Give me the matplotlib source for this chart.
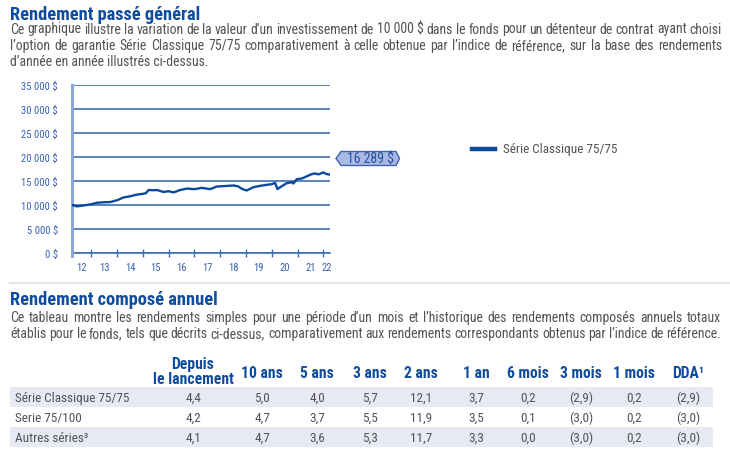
import matplotlib
matplotlib.use("Agg")
import matplotlib.pyplot as plt
from matplotlib.patches import Polygon, Rectangle
from matplotlib.lines import Line2D
import matplotlib.ticker as mticker

# ---------------- data ----------------
dates = [2012.25, 2012.44, 2012.70, 2013.00, 2013.22, 2013.48, 2013.74, 2014.01,
         2014.25, 2014.51, 2014.77, 2015.00, 2015.12, 2015.22, 2015.40, 2015.55,
         2015.80, 2016.00, 2016.19, 2016.45, 2016.71, 2017.00, 2017.29, 2017.61,
         2017.87, 2018.13, 2018.52, 2018.71, 2018.84, 2019.03, 2019.29, 2019.55,
         2019.81, 2020.00, 2020.13, 2020.22, 2020.33, 2020.58, 2020.78, 2020.84,
         2020.97, 2021.17, 2021.36, 2021.55, 2021.68, 2021.81, 2021.94, 2022.00,
         2022.11, 2022.26]
values = [10000, 9700, 9880, 10150, 10450, 10550, 10600, 11000,
          11550, 11800, 12150, 12300, 12450, 13100, 13050, 13100,
          12700, 12850, 12600, 13100, 13400, 13280, 13550, 13280,
          13830, 13900, 14040, 13830, 13350, 13000, 13690, 13970,
          14180, 14310, 14590, 13300, 13690, 14520, 14730, 14450,
          15350, 15500, 15950, 16400, 16550, 16350, 16600, 16750,
          16450, 16289]
final_value_label = "16 289 $"
series_name = "Série Classique 75/75"
year_ticks = [2013, 2014, 2015, 2016, 2017, 2018, 2019, 2020, 2021, 2022]
year_labels = ["12", "13", "14", "15", "16", "17", "18", "19", "20", "21", "22"]
y_ticks = [0, 5000, 10000, 15000, 20000, 25000, 30000, 35000]

title1 = "Rendement passé général"
# "~" marks a space that must not be stretched by justification
para1 = ["Ce graphique illustre la variation de la valeur d’un investissement de 10~000~$ dans le fonds pour un détenteur de contrat ayant choisi",
         "l’option de garantie Série Classique 75/75 comparativement à celle obtenue par l’indice de référence, sur la base des rendements",
         "d’année en année illustrés ci-dessus."]
title2 = "Rendement composé annuel"
para2 = ["Ce tableau montre les rendements simples pour une période d’un mois et l’historique des rendements composés annuels totaux",
         "établis pour le fonds, tels que décrits ci-dessus, comparativement aux rendements correspondants obtenus par l’indice de référence."]

table_cols = ["Depuis\nle lancement", "10 ans", "5 ans", "3 ans", "2 ans", "1 an",
              "6 mois", "3 mois", "1 mois", "DDA¹"]
table_rows = ["Série Classique 75/75", "Serie 75/100", "Autres séries³"]
table_vals = [["4,4", "5,0", "4,0", "5,7", "12,1", "3,7", "0,2", "(2,9)", "0,2", "(2,9)"],
              ["4,2", "4,7", "3,7", "5,5", "11,9", "3,5", "0,1", "(3,0)", "0,2", "(3,0)"],
              ["4,1", "4,7", "3,6", "5,3", "11,7", "3,3", "0,0", "(3,0)", "0,2", "(3,0)"]]

# ---------------- style ----------------
W, H = 730, 456
FONT = ["Roboto Condensed", "DejaVu Sans"]
plt.rcParams['font.family'] = FONT
BLUE_T = "#0f4c9e"
GRAY = "#535353"
LINE = "#0b4a9b"
GRID = "#3f6db4"
TICKC = "#3a62ad"

fig = plt.figure(figsize=(W / 100, H / 100), dpi=100)
fig.patch.set_facecolor("white")
renderer = fig.canvas.get_renderer()


def fx(x):
    return x / W


def fy(y):
    return 1 - y / H


def fit_size(s, target, weight="normal"):
    t = fig.text(0, 0, s, fontsize=10, fontweight=weight)
    w = t.get_window_extent(renderer).width
    t.remove()
    return 10 * target / w


# sizes fitted to the widths measured in the reference
S_TITLE = fit_size(title1, 190, "bold")
S_BODY = fit_size(para2[1], 711)
S_ROW = fit_size(table_rows[0], 114)
S_HEAD = fit_size("le lancement", 80, "bold")
S_TICK = fit_size("35 000 $", 36)
S_CALL = fit_size(final_value_label, 47)

# ---------------- chart ----------------
L, R, T, B = 72, 330, 85.7, 254
ax = fig.add_axes([fx(L), fy(B), (R - L) / W, (B - T) / H])
ax.plot(dates, values, color=LINE, lw=1.7, solid_joinstyle="round", zorder=3)
ax.set_xlim(dates[0], dates[-1])
ax.set_ylim(0, 35000)
ax.set_yticks(y_ticks)
ax.yaxis.set_major_formatter(mticker.FuncFormatter(
    lambda v, p: ("{:,.0f}".format(v).replace(",", " ") + " $")))
ax.yaxis.grid(True, color=GRID, lw=1.2, zorder=1)
ax.set_axisbelow(True)
for s in ["top", "right", "bottom"]:
    ax.spines[s].set_visible(False)
ax.spines["left"].set_color("#8ea6d6")
ax.spines["left"].set_linewidth(2.2)
ax.spines["left"].set_bounds(-600, 35000)
ax.tick_params(axis="y", length=0, pad=10, labelsize=S_TICK, labelcolor=TICKC)
ax.set_xticks(year_ticks)
ax.set_xticklabels([])
ax.tick_params(axis="x", which="major", direction="inout", length=6, width=1,
               color=GRID)
bounds = [dates[0]] + year_ticks + [dates[-1]]
mids = [(a + b) / 2 for a, b in zip(bounds[:-1], bounds[1:])]
ax.set_xticks(mids, minor=True)
ax.set_xticklabels(year_labels, minor=True)
ax.tick_params(axis="x", which="minor", length=0, pad=6.5, labelsize=S_TICK,
               labelcolor=TICKC)
ax.axhline(0, color=GRID, lw=1.2, zorder=2, clip_on=False)

# callout
cy = 159.5
poly = [(336, cy), (341, 152.5), (396, 152.5), (399.5, cy), (396, 166.5), (341, 166.5)]
fig.patches.append(Polygon([(fx(a), fy(b)) for a, b in poly], closed=True,
                           transform=fig.transFigure, facecolor="#a9b8e4",
                           edgecolor="#3b63b0", lw=1))
fig.text(fx(370.5), fy(cy + 0.5), final_value_label, ha="center", va="center",
         fontsize=S_CALL, color="#2452a0")

# legend
fig.lines.append(Line2D([fx(472), fx(495)], [fy(150), fy(150)], color=LINE,
                        lw=3.2, transform=fig.transFigure))
fig.text(fx(503), fy(150), series_name, ha="left", va="center",
         fontsize=S_ROW, color=GRAY)

# ---------------- texts ----------------


def line_text(s, x0, x1, base, justify, **kw):
    if not justify:
        fig.text(fx(x0), fy(base), s.replace("~", " "), ha="left", va="baseline", **kw)
        return
    words = [w.replace("~", " ") for w in s.split(" ")]
    objs = [fig.text(0, fy(base), w, ha="left", va="baseline", **kw) for w in words]
    widths = [o.get_window_extent(renderer).width for o in objs]
    gap = (x1 - x0 - sum(widths)) / (len(words) - 1)
    x = x0
    for o, w in zip(objs, widths):
        o.set_x(fx(x))
        x += w + gap


fig.text(fx(10), fy(19.5), title1, ha="left", va="baseline", fontsize=S_TITLE,
         fontweight="bold", color=BLUE_T)
p1_base = [33.5, 50, 66.5]
for i, s in enumerate(para1):
    line_text(s, 10, 722, p1_base[i], i < len(para1) - 1, fontsize=S_BODY, color=GRAY)

fig.lines.append(Line2D([fx(10), fx(730)], [fy(284), fy(284)], color="#e6e6e6",
                        lw=1.6, transform=fig.transFigure))

fig.text(fx(10), fy(305.5), title2, ha="left", va="baseline", fontsize=S_TITLE,
         fontweight="bold", color=BLUE_T)
p2_base = [322, 338]
for i, s in enumerate(para2):
    line_text(s, 10, 721, p2_base[i], True, fontsize=S_BODY, color=GRAY)

# ---------------- table ----------------
col_x = [193, 262, 317, 370, 421, 476, 528, 581, 634, 688]
row_top = [388, 408, 428]
row_h = 19.5
row_bg = ["#e7e9f5", "white", "#e7e9f5"]
for i in range(len(table_rows)):
    fig.patches.append(Rectangle((fx(10), fy(row_top[i] + row_h)), (713 - 10) / W,
                                 row_h / H, transform=fig.transFigure,
                                 facecolor=row_bg[i], edgecolor="none"))
for j, c in enumerate(table_cols):
    if "\n" in c:
        a, b = c.split("\n")
        fig.text(fx(col_x[j]), fy(364), a, ha="center", va="center", fontsize=S_HEAD,
                 fontweight="bold", color=BLUE_T)
        fig.text(fx(col_x[j]), fy(380), b, ha="center", va="center", fontsize=S_HEAD,
                 fontweight="bold", color=BLUE_T)
    else:
        fig.text(fx(col_x[j]), fy(373), c, ha="center", va="center", fontsize=S_HEAD,
                 fontweight="bold", color=BLUE_T)
for i, rname in enumerate(table_rows):
    yc = row_top[i] + row_h / 2 + 0.5
    fig.text(fx(15), fy(yc), rname, ha="left", va="center", fontsize=S_ROW, color=GRAY)
    for j, v in enumerate(table_vals[i]):
        fig.text(fx(col_x[j]), fy(yc), v, ha="center", va="center", fontsize=S_ROW,
                 color=GRAY)

fig.savefig("out.png", dpi=100)
